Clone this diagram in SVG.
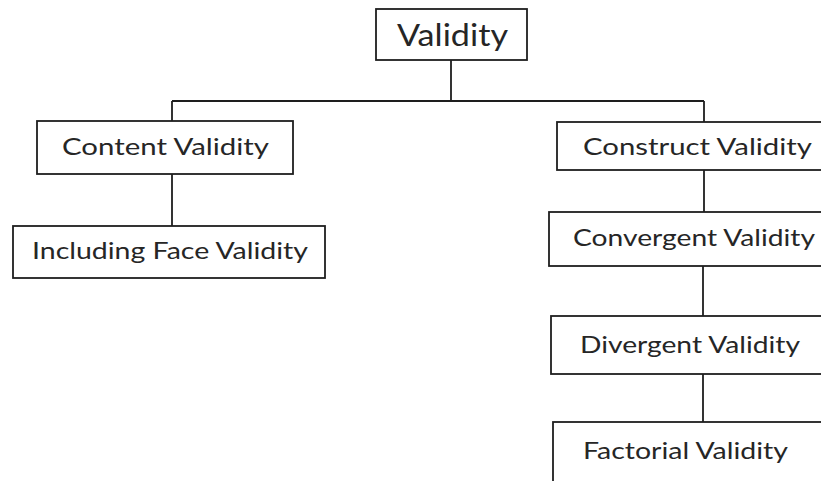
<svg xmlns="http://www.w3.org/2000/svg" width="821" height="481" viewBox="0 0 821 481">
<style>
.box{fill:#fff;stroke:#1e1e1e;stroke-width:1.8}
.lbl{font-family:Lato,"Open Sans","Liberation Sans",sans-serif;fill:#262626;font-size:24px}
.big{font-size:31px}
.conn{fill:none;stroke:#1e1e1e;stroke-width:1.8}
</style>
<rect width="821" height="481" fill="#fff"/>
<g id="connectors">
<path class="conn" d="M451 60V101M172 101H704M172 101V121M704 101V122M172 174V226M704 170V212M703 266V316M703 374V422"/>
</g>
<g id="validity">
<rect class="box" x="376" y="9" width="151" height="51"/>
<text class="lbl big" x="397" y="46" textLength="111" lengthAdjust="spacingAndGlyphs">Validity</text>
</g>
<g id="content">
<rect class="box" x="37" y="121" width="256" height="53"/>
<text class="lbl" x="62" y="155" textLength="207" lengthAdjust="spacingAndGlyphs">Content Validity</text>
</g>
<g id="face">
<rect class="box" x="13" y="226" width="312" height="52"/>
<text class="lbl" x="32" y="259" textLength="276" lengthAdjust="spacingAndGlyphs">Including Face Validity</text>
</g>
<g id="construct">
<rect class="box" x="557" y="122" width="280" height="48"/>
<text class="lbl" x="583" y="155" textLength="229" lengthAdjust="spacingAndGlyphs">Construct Validity</text>
</g>
<g id="convergent">
<rect class="box" x="549" y="212" width="290" height="54"/>
<text class="lbl" x="573" y="246" textLength="242" lengthAdjust="spacingAndGlyphs">Convergent Validity</text>
</g>
<g id="divergent">
<rect class="box" x="551" y="316" width="290" height="58"/>
<text class="lbl" x="580" y="353" textLength="220" lengthAdjust="spacingAndGlyphs">Divergent Validity</text>
</g>
<g id="factorial">
<rect class="box" x="553" y="422" width="290" height="80"/>
<text class="lbl" x="583" y="459" textLength="205" lengthAdjust="spacingAndGlyphs">Factorial Validity</text>
</g>
</svg>
